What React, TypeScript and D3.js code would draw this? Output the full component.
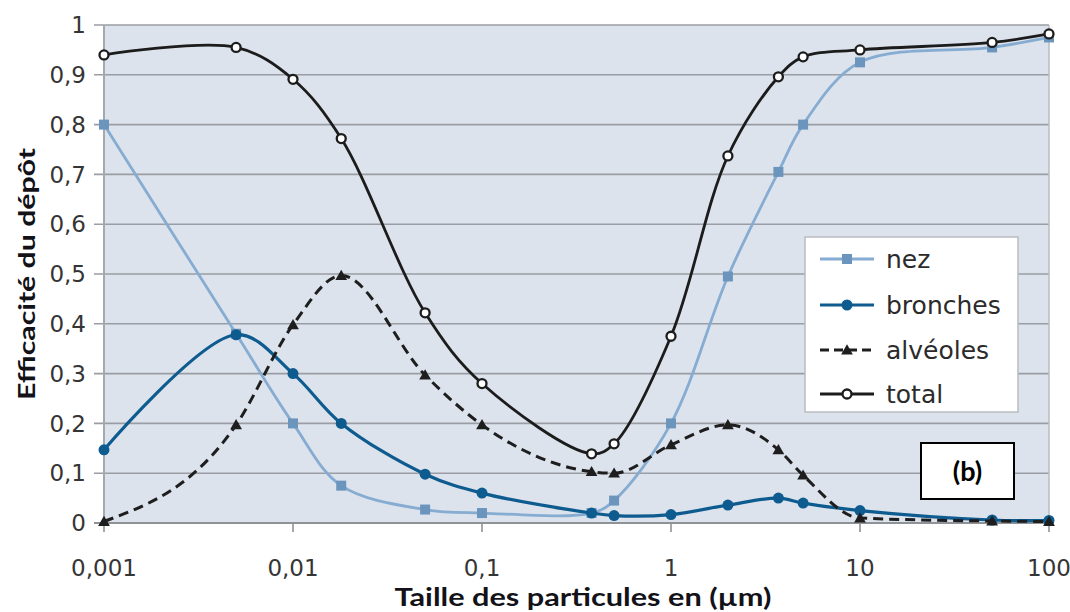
import React from "react";
import * as d3 from "d3";

// ---- Data ----
const sizes = [0.001, 0.005, 0.01, 0.018, 0.05, 0.1, 0.38, 0.5, 1, 2, 3.7, 5, 10, 50, 100];
const nez = [0.8, 0.38, 0.2, 0.075, 0.027, 0.02, 0.02, 0.045, 0.2, 0.495, 0.705, 0.8, 0.925, 0.955, 0.975];
const bronches = [0.147, 0.378, 0.3, 0.2, 0.098, 0.06, 0.02, 0.015, 0.017, 0.036, 0.05, 0.04, 0.025, 0.006, 0.005];
const alveoles = [0.003, 0.197, 0.398, 0.497, 0.297, 0.197, 0.103, 0.1, 0.157, 0.197, 0.147, 0.096, 0.01, 0.004, 0.003];
const total = [0.94, 0.955, 0.891, 0.772, 0.422, 0.28, 0.139, 0.159, 0.375, 0.737, 0.896, 0.936, 0.95, 0.965, 0.982];

const yTicks = [0, 0.1, 0.2, 0.3, 0.4, 0.5, 0.6, 0.7, 0.8, 0.9, 1];
const yTickLabels = ["0", "0,1", "0,2", "0,3", "0,4", "0,5", "0,6", "0,7", "0,8", "0,9", "1"];
const xTicks = [0.001, 0.01, 0.1, 1, 10, 100];
const xTickLabels = ["0,001", "0,01", "0,1", "1", "10", "100"];

const seriesNames = ["nez", "bronches", "alvéoles", "total"];
const xTitle = "Taille des particules en (µm)";
const yTitle = "Efficacité du dépôt";
const panelLabel = "(b)";

// ---- Layout ----
const W = 1070, H = 612;
const L = 104, R = 1049, T = 25, B = 523;

const x = d3.scaleLog().domain([0.001, 100]).range([L, R]);
const y = d3.scaleLinear().domain([0, 1]).range([B, T]);

const makeLine = (curve: any) =>
  d3
    .line<[number, number]>()
    .x((d) => x(d[0]))
    .y((d) => y(d[1]))
    .curve(curve);

const styles = [
  { line: "#86acd2", marker: "#6c95bd", width: 2.8, dash: null as string | null, shape: "square", curve: d3.curveCatmullRom.alpha(0.5) },
  { line: "#0e5b8f", marker: "#0e5b8f", width: 3.2, dash: null, shape: "circle", curve: d3.curveCatmullRom.alpha(0.5) },
  { line: "#1e1e1e", marker: "#1e1e1e", width: 3, dash: "10,6", shape: "triangle", curve: d3.curveMonotoneX },
  { line: "#1c1c1c", marker: "#1c1c1c", width: 2.8, dash: null, shape: "open", curve: d3.curveCatmullRom.alpha(0.5) },
];

function Marker({ cx, cy, shape, color }: { cx: number; cy: number; shape: string; color: string }) {
  if (shape === "square") return <rect x={cx - 5} y={cy - 5} width={10} height={10} fill={color} />;
  if (shape === "circle") return <circle cx={cx} cy={cy} r={5.5} fill={color} />;
  if (shape === "triangle") {
    const s = d3.symbol().type(d3.symbolTriangle).size(60)();
    return <path d={s || ""} transform={`translate(${cx},${cy + 1})`} fill={color} />;
  }
  return <circle cx={cx} cy={cy} r={4.5} fill="#fff" stroke={color} strokeWidth={2.3} />;
}

export default function App() {
  const allSeries = [nez, bronches, alveoles, total];
  const tickFont = "'DejaVu Sans', sans-serif";
  const legendRows = [259, 305, 350, 394];
  return (
    <svg
      width={W}
      height={H}
      style={{ position: "absolute", left: 0, top: 0, background: "#fff" }}
    >
      <rect x={0} y={0} width={W} height={H} fill="#fff" />
      {/* plot background */}
      <rect x={L} y={T} width={R - L} height={B - T} fill="#dce3ec" />
      {/* gridlines */}
      {yTicks.map((t) => (
        <line key={t} x1={L - 10} x2={R} y1={y(t)} y2={y(t)} stroke="#9a9da3" strokeWidth={1.6} />
      ))}
      {/* axes */}
      <line x1={L} x2={L} y1={T} y2={B} stroke="#a4a9b0" strokeWidth={2} />
      <line x1={R} x2={R} y1={T} y2={B} stroke="#b8bcc2" strokeWidth={1.5} />
      <line x1={L - 10} x2={R} y1={B} y2={B} stroke="#8f9297" strokeWidth={1.8} />
      {xTicks.map((t) => (
        <line key={t} x1={x(t)} x2={x(t)} y1={B} y2={B + 9} stroke="#8f9297" strokeWidth={1.6} />
      ))}
      {/* tick labels */}
      {yTicks.map((t, i) => (
        <text
          key={t}
          x={86}
          y={y(t)}
          dy="0.36em"
          textAnchor="end"
          fontFamily={tickFont}
          fontSize={23}
          fill="#353535"
        >
          {yTickLabels[i]}
        </text>
      ))}
      {xTicks.map((t, i) => (
        <text
          key={t}
          x={x(t)}
          y={576}
          textAnchor="middle"
          fontFamily={tickFont}
          fontSize={23}
          fill="#353535"
        >
          {xTickLabels[i]}
        </text>
      ))}
      {/* axis titles */}
      <text
        x={583}
        y={606}
        textAnchor="middle"
        fontFamily="Lato, 'Open Sans', sans-serif"
        fontWeight="bold"
        fontSize={25}
        fill="#121218"
        textLength={377}
        lengthAdjust="spacingAndGlyphs"
      >
        {xTitle}
      </text>
      <text
        transform={`translate(35,${(T + B) / 2}) rotate(-90)`}
        textAnchor="middle"
        fontFamily="Lato, 'Open Sans', sans-serif"
        fontWeight="bold"
        fontSize={23}
        fill="#121218"
        textLength={252}
        lengthAdjust="spacingAndGlyphs"
      >
        {yTitle}
      </text>
      {/* series */}
      {allSeries.map((vals, si) => {
        const pts = sizes.map((s, i) => [s, vals[i]] as [number, number]);
        const st = styles[si];
        return (
          <g key={si}>
            <path
              d={makeLine(st.curve)(pts) || ""}
              fill="none"
              stroke={st.line}
              strokeWidth={st.width}
              strokeDasharray={st.dash || undefined}
            />
            {pts.map((p, i) => (
              <Marker key={i} cx={x(p[0])} cy={y(p[1])} shape={st.shape} color={st.marker} />
            ))}
          </g>
        );
      })}
      {/* legend */}
      <rect x={805} y={237} width={213} height={175} fill="#fff" stroke="#b9bcc0" strokeWidth={1.5} />
      {seriesNames.map((name, i) => {
        const st = styles[i];
        const cy = legendRows[i];
        return (
          <g key={name}>
            <line
              x1={820}
              x2={874}
              y1={cy}
              y2={cy}
              stroke={st.line}
              strokeWidth={st.width}
              strokeDasharray={st.dash ? "9,5" : undefined}
            />
            <Marker cx={847} cy={cy} shape={st.shape} color={st.marker} />
            <text x={886} y={cy} dy="0.36em" fontFamily={tickFont} fontSize={25} fill="#2b2b2b">
              {name}
            </text>
          </g>
        );
      })}
      {/* panel label */}
      <rect x={921} y={443} width={93} height={56} fill="#fff" stroke="#000" strokeWidth={2} />
      <text
        x={967.5}
        y={471}
        dy="0.36em"
        textAnchor="middle"
        fontFamily="Lato, 'Open Sans', sans-serif"
        fontWeight="bold"
        fontSize={27}
        fill="#000"
      >
        {panelLabel}
      </text>
    </svg>
  );
}
